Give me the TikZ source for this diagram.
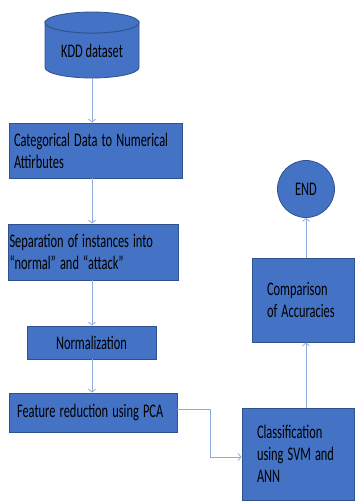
\documentclass[tikz,border=0pt]{standalone}
\usepackage{fontspec}
\usepackage{graphicx}
\usepackage{tikz}
\usetikzlibrary{arrows.meta}

\setmainfont{Carlito}
\definecolor{boxfill}{HTML}{4472C4}
\definecolor{boxline}{HTML}{2F528F}
\definecolor{connline}{HTML}{8FAADC}

% text in the reference is drawn taller than wide
\newcommand{\tallline}[1]{\scalebox{1}[1.55]{#1}}

\begin{document}
\begin{tikzpicture}[
  x=1pt, y=-1pt,
  every node/.style={font=\fontsize{12.4}{22}\selectfont},
  box/.style={draw=boxline, fill=boxfill, line width=0.8pt, rectangle,
    align=left, text=black},
  drum/.style={draw=boxline, fill=boxfill, line width=0.8pt},
  conn/.style={draw=connline, line width=0.8pt,
    -{Straight Barb[length=3pt, width=7pt]}}
]

%% ── frame ────────────────────────────────────────────────────────────────────
\useasboundingbox[fill=white] (0,0) rectangle (356,504);

%% ── dataset drum ─────────────────────────────────────────────────────────────
\path[drum] (45,22.5) -- (45,67.5)
  arc[start angle=180, end angle=0, x radius=47, y radius=10.5]
  -- (139,22.5)
  arc[start angle=0, end angle=180, x radius=47, y radius=10.5] -- cycle;
\path[drum] (92,22.5) ellipse[x radius=47, y radius=10.5];
\node[text=black, inner sep=0pt] (kdd) at (92,51) {\tallline{KDD dataset}};
\coordinate (kddbase) at (92,78);

%% ── left column ──────────────────────────────────────────────────────────────
\node[box, inner xsep=5, text width=163, minimum height=55]
  (cat) at (95.5,150.5)
  {\tallline{Categorical Data to Numerical}\\\tallline{Attirbutes}};

\node[box, inner xsep=1.5, text width=167, minimum height=56]
  (sep) at (93,252)
  {\tallline{Separation of instances into}\\\tallline{“normal” and “attack”}};

\node[box, align=center, inner xsep=4, text width=121, minimum height=33]
  (norm) at (91.5,342.5) {\tallline{Normalization}};

\node[box, inner xsep=8, text width=152, minimum height=39]
  (fr) at (93,412.5) {\tallline{Feature reduction using PCA}};

%% ── right column ─────────────────────────────────────────────────────────────
\node[box, inner xsep=15, text width=82, minimum height=92]
  (cls) at (298,454)
  {\tallline{Classification}\\\tallline{using SVM and}\\\tallline{ANN}};

\node[box, inner xsep=15, text width=72, minimum height=84]
  (cmp) at (303,300)
  {\tallline{Comparison}\\\tallline{of Accuracies}};

\node[box, circle, minimum size=57, inner sep=0pt, align=center]
  (endn) at (306,189) {\tallline{END}};

%% ── connectors ───────────────────────────────────────────────────────────────
\draw[conn] (kddbase) -- (kddbase |- cat.north);
\draw[conn] (kddbase |- cat.south) -- (kddbase |- sep.north);
\draw[conn] (kddbase |- sep.south) -- (kddbase |- norm.north);
\draw[conn] (kddbase |- norm.south) -- (kddbase |- fr.north);
\draw[conn] ([yshift=3.5]fr.east) -- ++(33,0) |- ([yshift=-3]cls.west);
\draw[conn] (cls.north -| endn.south) -- (cmp.south -| endn.south);
\draw[conn] (cmp.north -| endn.south) -- (endn.south);

\end{tikzpicture}
\end{document}
